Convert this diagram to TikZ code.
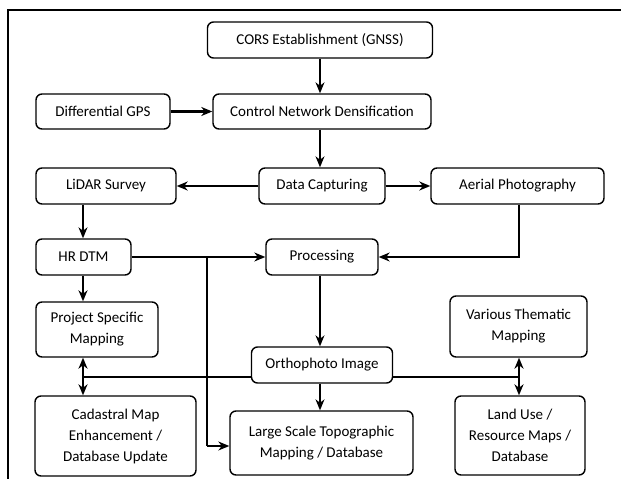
\documentclass[tikz,border=0pt]{standalone}
\usepackage{fontspec}
\setmainfont{Carlito}
\usetikzlibrary{arrows.meta}
\begin{document}
\begin{tikzpicture}[x=1pt,y=-1pt,
  box/.style={draw, line width=1.4pt, rounded corners=6pt, align=center, inner sep=0pt,
    font=\fontsize{15}{21}\selectfont},
  thinarr/.style={line width=1.2pt, -{Stealth[length=11pt,width=9pt,inset=3.5pt]}},
  thickarr/.style={line width=2.4pt, -{Stealth[length=11pt,width=9pt,inset=3.5pt]}},
  thinline/.style={line width=1.2pt},
  thickline/.style={line width=2.4pt},
  boththick/.style={line width=2.4pt, {Stealth[length=11pt,width=9pt,inset=3.5pt]}-{Stealth[length=11pt,width=9pt,inset=3.5pt]}}]
\useasboundingbox (0,0) rectangle (621,479);
% frame
\draw[line width=2pt] (8,479) -- (8,10) -- (621,10);
% nodes
\node[box, minimum width=225pt, minimum height=36pt] (cors) at (320,40) {CORS Establishment (GNSS)};
\node[box, minimum width=134pt, minimum height=35pt] (dgps) at (103,111.5) {Differential GPS};
\node[box, minimum width=218pt, minimum height=35pt] (ctrl) at (322,111.5) {Control Network Densification};
\node[box, minimum width=140pt, minimum height=36pt] (lidar) at (106,186) {LiDAR Survey};
\node[box, minimum width=126pt, minimum height=36pt] (dcap) at (322,186) {Data Capturing};
\node[box, minimum width=173pt, minimum height=36pt] (aerial) at (517.5,186) {Aerial Photography};
\node[box, minimum width=95pt, minimum height=36pt] (hrdtm) at (83.5,257) {HR DTM};
\node[box, minimum width=112pt, minimum height=36pt] (proc) at (322,257) {Processing};
\node[box, minimum width=122pt, minimum height=55pt] (proj) at (97,329.5) {Project Specific\\Mapping};
\node[box, minimum width=137pt, minimum height=61pt] (various) at (518.5,326.5) {Various Thematic\\Mapping};
\node[box, minimum width=141pt, minimum height=36pt] (ortho) at (322,365) {Orthophoto Image};
\node[box, minimum width=161pt, minimum height=80pt] (cad) at (115.5,436) {Cadastral Map\\Enhancement /\\Database Update};
\node[box, minimum width=183pt, minimum height=64pt] (large) at (321.5,443) {Large Scale Topographic\\Mapping / Database};
\node[box, minimum width=130pt, minimum height=79pt] (land) at (520,435.5) {Land Use /\\Resource Maps /\\Database};
% helper coordinates
\coordinate (lx) at (83,0);
\coordinate (rx) at (519,0);
\coordinate (cx) at (320,0);
\coordinate (hl) at (0,377);
\coordinate (vx) at (207,257);
\coordinate (vb) at (207,446);
% connectors
\draw[thinarr] (cors.south -| cx) -- (ctrl.north -| cx);
\draw[thickarr] (dgps.east) -- (ctrl.west);
\draw[thinarr] (ctrl.south -| cx) -- (dcap.north -| cx);
\draw[thickarr] (dcap.west) -- (lidar.east);
\draw[thickarr] (dcap.east) -- (aerial.west);
\draw[thinarr] (lidar.south -| lx) -- (hrdtm.north -| lx);
\draw[thinarr] (hrdtm.east) -- (proc.west);
\draw[thinarr] (aerial.south -| rx) -- (proc.east -| rx) -- (proc.east);
\draw[thickarr] (hrdtm.south -| lx) -- (proj.north -| lx);
\draw[thickline] (vx) -- (vb);
\draw[thinarr] (vb) -- (vb -| large.west);
\draw[thinarr] (proc.south -| cx) -- (ortho.north -| cx);
\draw[thinarr] (ortho.south -| cx) -- (large.north -| cx);
\draw[thinline] (ortho.west |- hl) -- (lx |- hl);
\draw[thinline] (ortho.east |- hl) -- (rx |- hl);
\draw[boththick] (proj.south -| lx) -- (cad.north -| lx);
\draw[boththick] (various.south -| rx) -- (land.north -| rx);
\end{tikzpicture}
\end{document}
